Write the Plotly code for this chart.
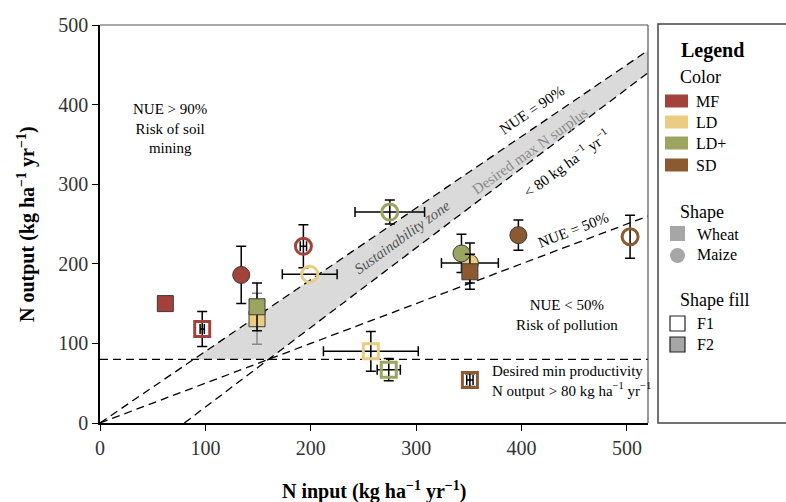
import plotly.graph_objects as go

# ---------------- data ----------------
systems = ["MF", "MF", "MF", "MF", "LD", "LD+", "LD", "LD+", "LD", "LD+", "SD",
           "LD", "LD+", "SD", "SD", "SD"]
crops = ["Wheat", "Wheat", "Maize", "Maize", "Wheat", "Wheat", "Maize", "Maize", "Wheat", "Wheat", "Wheat",
         "Maize", "Maize", "Wheat", "Maize", "Maize"]
fills = ["F2", "F1", "F2", "F1", "F2", "F2", "F1", "F1", "F1", "F1", "F1",
         "F2", "F2", "F2", "F2", "F1"]
n_input = [62, 97, 134, 193, 149, 149, 199, 275, 257, 274, 351, 351, 343, 351, 397, 503]
n_output = [150, 118, 186, 222, 131, 146, 187, 265, 90, 67, 54, 201, 213, 190, 236, 234]
n_input_err = [0, 2, 0, 3, 0, 0, 26, 33, 45, 11, 3, 27, 0, 0, 0, 0]
n_output_err = [0, 22, 36, 27, 32, 30, 0, 15, 25, 14, 8, 25, 24, 22, 19, 27]

system_names = ["MF", "LD", "LD+", "SD"]
system_colors = ["#A3423A", "#EBCC82", "#9CA55F", "#8C5A30"]

nue_high = 0.9
nue_low = 0.5
max_surplus = 80
min_output = 80
x_max = 520
y_max = 500

color_of = dict(zip(system_names, system_colors))
FONT = "Liberation Serif"

fig = go.Figure()

# sustainability zone
x_a = min_output / nue_high
x_b = min_output + max_surplus
fig.add_trace(go.Scatter(
    x=[x_a, x_max, x_max, x_b, x_a],
    y=[min_output, nue_high * x_max, x_max - max_surplus, min_output, min_output],
    fill="toself", fillcolor="#DADADA", line=dict(width=0), mode="lines",
    hoverinfo="skip", showlegend=False))

dash_line = dict(color="black", width=1.3, dash="8px,5px")
fig.add_trace(go.Scatter(x=[0, x_max], y=[0, nue_high * x_max], mode="lines",
                         line=dash_line, showlegend=False, hoverinfo="skip"))
fig.add_trace(go.Scatter(x=[max_surplus, x_max], y=[0, x_max - max_surplus], mode="lines",
                         line=dash_line, showlegend=False, hoverinfo="skip"))
fig.add_trace(go.Scatter(x=[0, x_max], y=[0, nue_low * x_max], mode="lines",
                         line=dash_line, showlegend=False, hoverinfo="skip"))
fig.add_trace(go.Scatter(x=[0, x_max], y=[min_output, min_output], mode="lines",
                         line=dash_line, showlegend=False, hoverinfo="skip"))

# data points
for s, c, f, x, y, ex, ey in zip(systems, crops, fills, n_input, n_output, n_input_err, n_output_err):
    col = color_of[s]
    sym = "square" if c == "Wheat" else "circle"
    err_col = "#888888" if (s == "LD" and f == "F2" and c == "Wheat") else "black"
    if f == "F1":
        marker = dict(symbol=sym + "-open", size=15 if c == "Wheat" else 16,
                      color=col, line=dict(color=col, width=3))
    else:
        marker = dict(symbol=sym, size=16 if c == "Wheat" else 17,
                      color=col, line=dict(color="#3a3a3a", width=1))
    fig.add_trace(go.Scatter(
        x=[x], y=[y], mode="markers", marker=marker, showlegend=False,
        error_x=dict(type="constant", value=ex, visible=ex > 0, color=err_col, thickness=1.5, width=5),
        error_y=dict(type="constant", value=ey, visible=ey > 0, color=err_col, thickness=1.5, width=5),
    ))

ann = []
def txt(x, y, text, size=15, angle=0, color="black", xref="x", yref="y", xanchor="center", yanchor="middle", **kw):
    ann.append(dict(x=x, y=y, xref=xref, yref=yref, text=text, showarrow=False, textangle=angle,
                    font=dict(family=FONT, size=size, color=color), xanchor=xanchor, yanchor=yanchor, **kw))

sup = "<sup>\u22121</sup>"
txt(66, 370, "NUE > 90%<br>Risk of soil<br>mining", size=15)
txt(410, 393, "NUE = 90%", size=15, angle=-34)
txt(408, 342, "Desired max N surplus", size=15, angle=-35.5, color="#8a8a8a")
txt(442, 327, "< 80 kg ha" + sup + " yr" + sup, size=15, angle=-36)
txt(287, 234, "<i>Sustainability zone</i>", size=15, angle=-36, color="#555555")
txt(449, 243, "NUE = 50%", size=15, angle=-21)
txt(443, 136, "NUE < 50%<br>Risk of pollution", size=15)
txt(370, 53, "Desired min productivity<br>N output > 80 kg ha" + sup + " yr" + sup, size=15, xanchor="left", align="left")

# axis titles
W, H = 786, 502
L, R, T, B = 100, 648, 25, 423
def px(xp): return (xp - L) / (R - L)
def py(yp): return (B - yp) / (B - T)

txt(px(374), py(490), "<b>N input (kg ha" + sup + " yr" + sup + ")</b>", size=20, xref="paper", yref="paper")
txt(px(26), py(224), "<b>N output (kg ha" + sup + " yr" + sup + ")</b>", size=20, angle=-90, xref="paper", yref="paper")

shapes = []
# frame top/right
shapes.append(dict(type="line", xref="paper", yref="paper", x0=0, x1=1, y0=1, y1=1, line=dict(color="#555", width=1.2)))
shapes.append(dict(type="line", xref="paper", yref="paper", x0=1, x1=1, y0=0, y1=1, line=dict(color="#555", width=1.2)))
# legend box
shapes.append(dict(type="rect", xref="paper", yref="paper", x0=px(658), x1=px(800), y0=py(423), y1=py(24),
                   line=dict(color="#444", width=1.5), fillcolor="white"))

txt(px(679), py(50), "<b>Legend</b>", size=20, xref="paper", yref="paper", xanchor="left")
txt(px(678), py(77), "Color", size=18, xref="paper", yref="paper", xanchor="left")
row_y = [101, 122, 143, 165]
for name, col, yy in zip(system_names, system_colors, row_y):
    shapes.append(dict(type="rect", xref="paper", yref="paper", x0=px(665), x1=px(688),
                       y0=py(yy + 6.5), y1=py(yy - 6.5), line=dict(width=0), fillcolor=col))
    txt(px(694), py(yy), name, size=16, xref="paper", yref="paper", xanchor="left")

txt(px(678), py(212), "Shape", size=18, xref="paper", yref="paper", xanchor="left")
shapes.append(dict(type="rect", xref="paper", yref="paper", x0=px(670), x1=px(685),
                   y0=py(241), y1=py(226), line=dict(width=0), fillcolor="#A6A6A6"))
txt(px(695), py(234), "Wheat", size=16, xref="paper", yref="paper", xanchor="left")
shapes.append(dict(type="circle", xref="paper", yref="paper", x0=px(670), x1=px(685),
                   y0=py(263), y1=py(248), line=dict(width=0), fillcolor="#A6A6A6"))
txt(px(695), py(255), "Maize", size=16, xref="paper", yref="paper", xanchor="left")

txt(px(678), py(300), "Shape fill", size=18, xref="paper", yref="paper", xanchor="left")
shapes.append(dict(type="rect", xref="paper", yref="paper", x0=px(670), x1=px(685),
                   y0=py(331), y1=py(316), line=dict(color="#222", width=1.2), fillcolor="white"))
txt(px(695), py(323), "F1", size=16, xref="paper", yref="paper", xanchor="left")
shapes.append(dict(type="rect", xref="paper", yref="paper", x0=px(670), x1=px(685),
                   y0=py(352), y1=py(337), line=dict(color="#222", width=1.2), fillcolor="#A6A6A6"))
txt(px(695), py(344), "F2", size=16, xref="paper", yref="paper", xanchor="left")

fig.update_layout(
    width=W, height=H,
    margin=dict(l=L, r=W - R, t=T, b=H - B, pad=0),
    plot_bgcolor="white", paper_bgcolor="white",
    font=dict(family=FONT, size=20, color="#333"),
    showlegend=False,
    annotations=ann, shapes=shapes,
    xaxis=dict(range=[0, x_max], tickvals=[0, 100, 200, 300, 400, 500], showgrid=False, zeroline=False,
               showline=True, linecolor="black", linewidth=1.6, ticks="outside", ticklen=6, tickwidth=1.3,
               tickcolor="black", tickfont=dict(size=20, family=FONT, color="#333")),
    yaxis=dict(range=[0, y_max], tickvals=[0, 100, 200, 300, 400, 500], showgrid=False, zeroline=False,
               showline=True, linecolor="black", linewidth=1.6, ticks="outside", ticklen=6, tickwidth=1.3,
               tickcolor="black", tickfont=dict(size=20, family=FONT, color="#333")),
)

fig.write_html("out.html")
